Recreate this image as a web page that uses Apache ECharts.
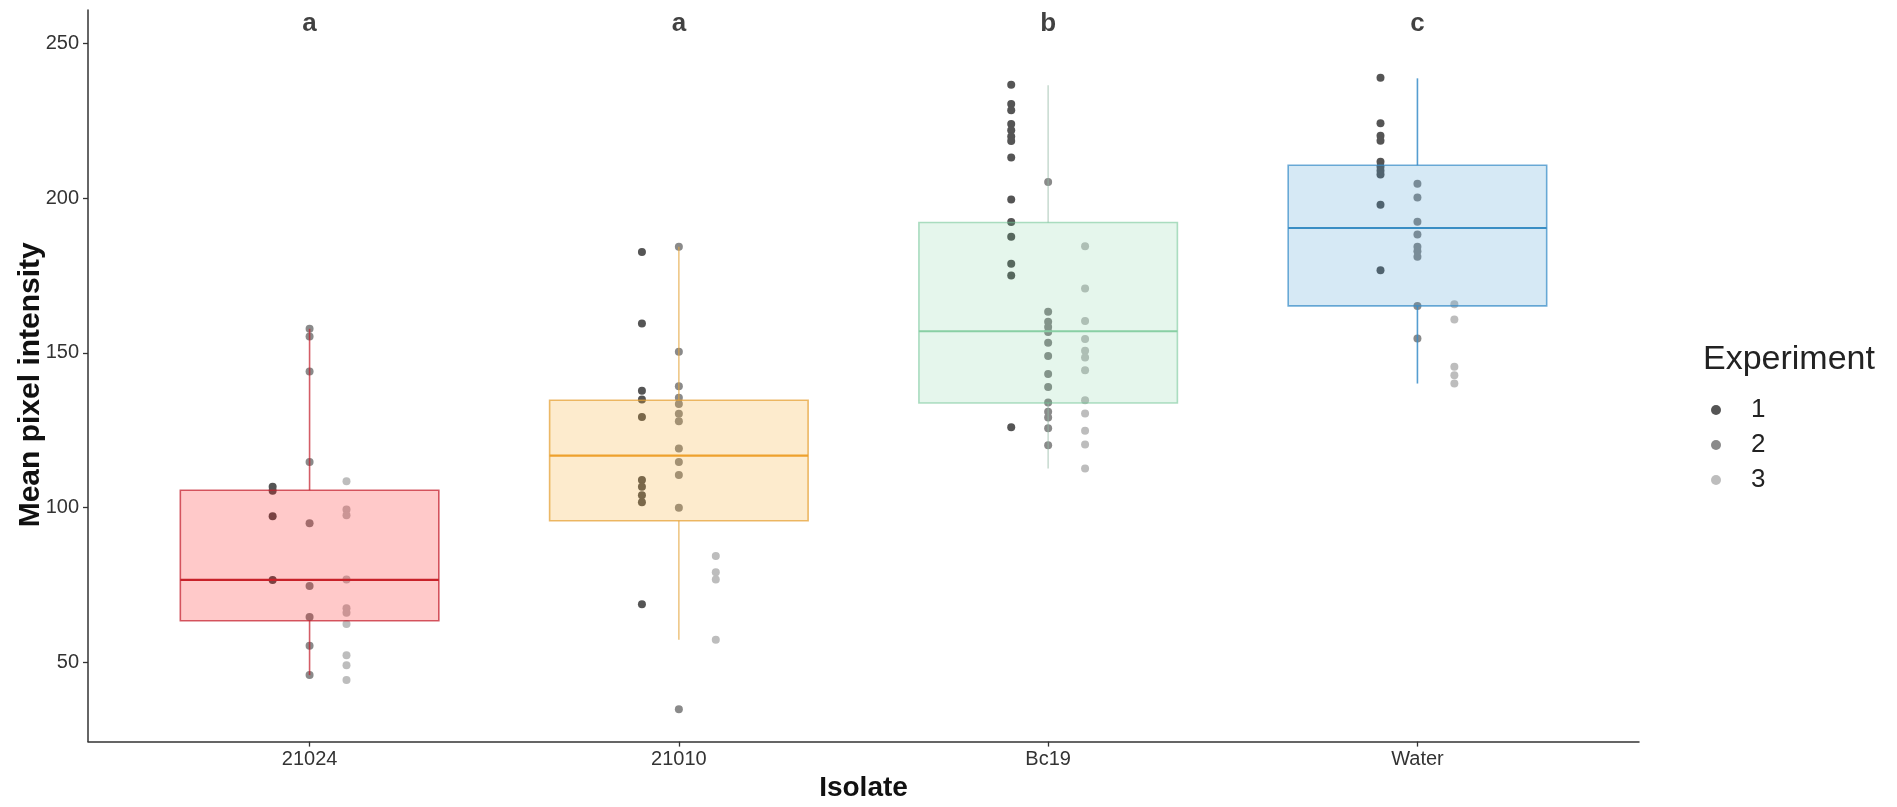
<!DOCTYPE html>
<html>
<head>
<meta charset="utf-8">
<title>Mean pixel intensity by isolate</title>
<script src="https://cdn.jsdelivr.net/npm/echarts@6/dist/echarts.min.js"></script>
<style>
  html, body { margin: 0; padding: 0; background: #ffffff; }
  #chart { width: 1897px; height: 807px; }
</style>
</head>
<body>
<div id="chart"></div>
<script>
// Isolates on the x axis
const isolates = ['21024', '21010', 'Bc19', 'Water'];

// Significance letters above each isolate
const groupLetters = ['a', 'a', 'b', 'c'];

// Y axis tick values
const yTicks = [50, 100, 150, 200, 250];

// Box statistics per isolate: [lower whisker, Q1, median, Q3, upper whisker]
const stats21024 = [45.8, 63.4, 76.6, 105.6, 157.8];
const stats21010 = [57.2, 95.7, 116.8, 134.7, 184.3];
const statsBc19  = [112.6, 133.8, 157.0, 192.2, 236.6];
const statsWater = [140.1, 165.2, 190.4, 210.7, 238.8];

// Observations, per isolate and experiment
const i21024_exp1 = [106.7, 105.4, 97.2, 76.6];
const i21024_exp2 = [157.8, 155.3, 144.0, 114.7, 94.9, 74.6, 64.6, 55.3, 45.8];
const i21024_exp3 = [108.5, 99.4, 97.5, 76.7, 67.4, 66.0, 62.3, 52.2, 49.0, 44.2];

const i21010_exp1 = [182.6, 159.5, 137.8, 134.9, 129.3, 108.9, 106.7, 104.0, 101.7, 68.7];
const i21010_exp2 = [184.3, 150.4, 139.2, 135.5, 133.5, 130.3, 127.9, 119.1, 114.7, 110.5, 99.9, 34.8];
const i21010_exp3 = [84.3, 79.1, 76.7, 57.2];

const bc19_exp1 = [236.7, 230.5, 228.5, 224.0, 222.0, 220.0, 218.5, 213.2, 199.6, 192.3, 187.6, 178.8, 175.0, 126.0];
const bc19_exp2 = [205.3, 163.3, 160.1, 158.4, 156.8, 153.3, 149.0, 143.2, 139.0, 134.0, 131.0, 129.1, 125.6, 120.1];
const bc19_exp3 = [184.5, 170.8, 160.3, 154.5, 150.7, 148.5, 144.4, 134.7, 130.4, 124.8, 120.4, 112.6];

const water_exp1 = [239.0, 224.3, 220.2, 218.6, 211.8, 210.2, 208.9, 207.7, 197.9, 176.7];
const water_exp2 = [204.7, 200.3, 192.4, 188.3, 184.3, 182.9, 181.1, 165.2, 154.7];
const water_exp3 = [165.7, 160.8, 145.5, 142.8, 140.1];

const experiments = ['1', '2', '3'];

// ---- assembly ----
const boxStats = [stats21024, stats21010, statsBc19, statsWater];
const observations = [
  [i21024_exp1, i21024_exp2, i21024_exp3],
  [i21010_exp1, i21010_exp2, i21010_exp3],
  [bc19_exp1, bc19_exp2, bc19_exp3],
  [water_exp1, water_exp2, water_exp3]
];

// styling
const FONT = 'Liberation Sans, Arial, Helvetica, sans-serif';
const BOX_HALF_WIDTH = 0.35;   // box width 0.7 category units
const DODGE = 0.1;             // horizontal dodge between experiments
const LETTER_Y = 256.3;
const pointColors = ['#555555', '#8a8a8a', '#bdbdbd'];
const boxStyles = [
  { fill: 'rgba(255, 0, 0, 0.21)',    stroke: 'rgba(196, 30, 45, 0.72)',  median: '#c8222a', whisker: 'rgba(196, 30, 45, 0.72)' },
  { fill: 'rgba(245, 168, 40, 0.23)', stroke: 'rgba(228, 160, 50, 0.72)', median: '#eea12d', whisker: 'rgba(228, 165, 60, 0.62)' },
  { fill: 'rgba(100, 200, 140, 0.17)', stroke: 'rgba(110, 195, 145, 0.55)', median: '#88cfa4', whisker: 'rgba(150, 185, 165, 0.5)' },
  { fill: 'rgba(60, 150, 210, 0.21)', stroke: 'rgba(55, 140, 200, 0.72)', median: '#3a8ec4', whisker: 'rgba(55, 140, 200, 0.85)' }
];

const boxData = boxStats.map((s, i) => [i + 1].concat(s));

const pointSeries = experiments.map((exp, e) => {
  const pts = [];
  observations.forEach((byExp, i) => {
    byExp[e].forEach(v => pts.push([i + 1 + (e - 1) * DODGE, v]));
  });
  return {
    name: exp,
    type: 'scatter',
    data: pts,
    symbol: 'circle',
    symbolSize: 8,
    itemStyle: { color: pointColors[e], opacity: 1 },
    z: 2,
    silent: true
  };
});

const boxSeries = {
  type: 'custom',
  name: 'box',
  data: boxData,
  z: 3,
  silent: true,
  encode: { x: 0, y: [1, 2, 3, 4, 5] },
  renderItem: function (params, api) {
    const x = api.value(0);
    const lo = api.value(1), q1 = api.value(2), med = api.value(3), q3 = api.value(4), hi = api.value(5);
    const st = boxStyles[params.dataIndex];
    const tl = api.coord([x - BOX_HALF_WIDTH, q3]);
    const br = api.coord([x + BOX_HALF_WIDTH, q1]);
    const pHi = api.coord([x, hi]);
    const pQ3 = api.coord([x, q3]);
    const pQ1 = api.coord([x, q1]);
    const pLo = api.coord([x, lo]);
    const mL = api.coord([x - BOX_HALF_WIDTH, med]);
    const mR = api.coord([x + BOX_HALF_WIDTH, med]);
    return {
      type: 'group',
      children: [
        { type: 'line', shape: { x1: pHi[0], y1: pHi[1], x2: pQ3[0], y2: pQ3[1] },
          style: { stroke: st.whisker, lineWidth: 1.6 } },
        { type: 'line', shape: { x1: pQ1[0], y1: pQ1[1], x2: pLo[0], y2: pLo[1] },
          style: { stroke: st.whisker, lineWidth: 1.6 } },
        { type: 'rect', shape: { x: tl[0], y: tl[1], width: br[0] - tl[0], height: br[1] - tl[1] },
          style: { fill: st.fill, stroke: st.stroke, lineWidth: 1.6 } },
        { type: 'line', shape: { x1: mL[0], y1: mL[1], x2: mR[0], y2: mR[1] },
          style: { stroke: st.median, lineWidth: 2.2 } }
      ]
    };
  }
};

const letterSeries = {
  type: 'scatter',
  name: 'letters',
  data: groupLetters.map((t, i) => [i + 1, LETTER_Y]),
  symbolSize: 0,
  silent: true,
  z: 5,
  label: {
    show: true,
    position: 'inside',
    formatter: p => groupLetters[p.dataIndex],
    fontFamily: FONT,
    fontWeight: 'bold',
    fontSize: 26,
    color: '#111111'
  }
};

const chart = echarts.init(document.getElementById('chart'), null, { renderer: 'canvas' });

chart.setOption({
  animation: false,
  backgroundColor: '#ffffff',
  textStyle: { fontFamily: FONT },
  grid: { left: 88, right: 258, top: 10, bottom: 65.4, containLabel: false, outerBoundsMode: 'none' },
  title: {
    text: 'Experiment',
    left: 1703,
    top: 343,
    padding: 0,
    textStyle: { fontFamily: FONT, fontSize: 34, fontWeight: 'normal', color: '#222222' }
  },
  legend: {
    data: experiments,
    orient: 'vertical',
    left: 1711,
    top: 397,
    padding: 0,
    itemWidth: 10,
    itemHeight: 10,
    itemGap: 9,
    icon: 'circle',
    selectedMode: false,
    textStyle: { fontFamily: FONT, fontSize: 26, lineHeight: 26, color: '#222222', padding: [0, 0, 0, 25] }
  },
  xAxis: {
    type: 'value',
    min: 0.4,
    max: 4.6,
    name: 'Isolate',
    nameLocation: 'middle',
    nameGap: 33,
    nameMoveOverlap: false,
    nameTextStyle: { fontFamily: FONT, fontSize: 28, fontWeight: 'bold', color: '#111111' },
    splitLine: { show: false },
    axisLine: { show: true, lineStyle: { color: '#333333', width: 1.5 } },
    axisTick: { show: true, length: 5, customValues: [1, 2, 3, 4], lineStyle: { color: '#333333', width: 1.3 } },
    axisLabel: {
      customValues: [1, 2, 3, 4],
      formatter: v => isolates[Math.round(v) - 1] || '',
      fontFamily: FONT, fontSize: 20, color: '#333333', margin: 8
    }
  },
  yAxis: {
    type: 'value',
    min: 24.3,
    max: 260.9,
    name: 'Mean pixel intensity',
    nameLocation: 'middle',
    nameRotate: 90,
    nameGap: 42,
    nameMoveOverlap: false,
    nameTextStyle: { fontFamily: FONT, fontSize: 30, fontWeight: 'bold', color: '#111111', padding: [0, 0, 0, -18] },
    splitLine: { show: false },
    axisLine: { show: true, lineStyle: { color: '#333333', width: 1.5 } },
    axisTick: { show: true, length: 5, customValues: yTicks, lineStyle: { color: '#333333', width: 1.3 } },
    axisLabel: {
      customValues: yTicks,
      fontFamily: FONT, fontSize: 20, color: '#333333', margin: 9
    }
  },
  series: pointSeries.concat([boxSeries, letterSeries])
});
</script>
</body>
</html>
